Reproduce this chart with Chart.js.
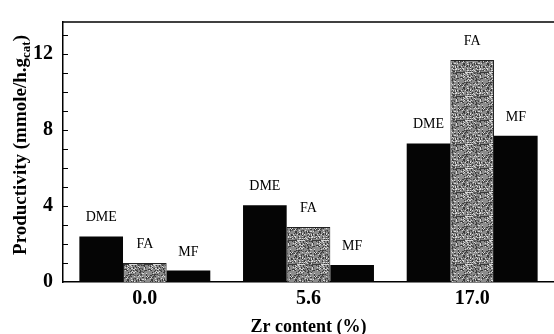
<!DOCTYPE html>
<html>
<head>
<meta charset="utf-8">
<script src="https://cdn.jsdelivr.net/npm/chart.js@4/dist/chart.umd.min.js"></script>
<style>
  html, body { margin: 0; padding: 0; background: #fff; }
  #wrap { width: 554px; height: 334px; }
</style>
</head>
<body>
<div id="wrap"><canvas id="chart"></canvas></div>
<script>
// data
const zrContent = ["0.0", "5.6", "17.0"];
const dmeValues = [2.4, 4.05, 7.3];
const faValues = [1.0, 2.9, 11.7];
const mfValues = [0.6, 0.9, 7.7];
const seriesNames = ["DME", "FA", "MF"];
const yLabelTicks = [0, 4, 8, 12];

const serif = "'Liberation Serif', 'DejaVu Serif', serif";

// speckled grey fill for the FA bars
function speckle() {
  const c = document.createElement("canvas");
  c.width = 24; c.height = 24;
  const g = c.getContext("2d");
  g.fillStyle = "#8c8c8c";
  g.fillRect(0, 0, 24, 24);
  for (let y = 0; y < 24; y++) {
    for (let x = 0; x < 24; x++) {
      const h = ((x * 73856093) ^ (y * 19349663)) >>> 0;
      const v = (h % 97);
      if (v < 18) { g.fillStyle = "#3a3a3a"; g.fillRect(x, y, 1, 1); }
      else if (v < 34) { g.fillStyle = "#d8d8d8"; g.fillRect(x, y, 1, 1); }
      else if (v < 44) { g.fillStyle = "#5e5e5e"; g.fillRect(x, y, 1, 1); }
    }
  }
  return g.createPattern(c, "repeat");
}

const frame = {
  id: "frame",
  afterDatasetsDraw(chart) {
    const ctx = chart.ctx;
    const a = chart.chartArea;
    const ys = chart.scales.y;
    ctx.save();
    // bar names above each bar
    ctx.fillStyle = "#000";
    ctx.font = "14px " + serif;
    ctx.textAlign = "center";
    ctx.textBaseline = "alphabetic";
    chart.data.datasets.forEach((ds, i) => {
      chart.getDatasetMeta(i).data.forEach(bar => {
        ctx.fillText(ds.label, bar.x, bar.y - 15);
      });
    });
    // frame lines
    ctx.strokeStyle = "#000";
    ctx.lineWidth = 1.5;
    ctx.beginPath();
    ctx.moveTo(a.left, a.top);
    ctx.lineTo(a.right, a.top);
    ctx.stroke();
    // inward minor ticks
    ctx.lineWidth = 1;
    for (let v = 1; v <= ys.max; v++) {
      const py = Math.round(ys.getPixelForValue(v)) + 0.5;
      ctx.beginPath();
      ctx.moveTo(a.left, py);
      ctx.lineTo(a.left + 5, py);
      ctx.stroke();
    }
    // y title with subscript
    const mainFont = "bold 19px " + serif;
    const subFont = "bold 13px " + serif;
    const main = "Productivity (mmole/h.g";
    const sub = "cat";
    ctx.font = mainFont;
    const w1 = ctx.measureText(main).width;
    const w3 = ctx.measureText(")").width;
    ctx.font = subFont;
    const w2 = ctx.measureText(sub).width;
    const total = w1 + w2 + w3;
    ctx.translate(26, 145);
    ctx.rotate(-Math.PI / 2);
    ctx.textAlign = "left";
    ctx.textBaseline = "alphabetic";
    ctx.font = mainFont;
    ctx.fillText(main, -total / 2, 0);
    ctx.font = subFont;
    ctx.fillText(sub, -total / 2 + w1, 4);
    ctx.font = mainFont;
    ctx.fillText(")", -total / 2 + w1 + w2, 0);
    ctx.restore();
  }
};

new Chart(document.getElementById("chart"), {
  type: "bar",
  data: {
    labels: zrContent,
    datasets: [
      { label: seriesNames[0], data: dmeValues, backgroundColor: "#050505" },
      { label: seriesNames[1], data: faValues, backgroundColor: speckle(), borderColor: "#222", borderWidth: 1 },
      { label: seriesNames[2], data: mfValues, backgroundColor: "#050505" }
    ]
  },
  options: {
    responsive: true,
    maintainAspectRatio: false,
    animation: false,
    layout: { padding: { top: 8, right: 0, left: 0, bottom: 0 } },
    plugins: { legend: { display: false }, tooltip: { enabled: false } },
    datasets: { bar: { categoryPercentage: 0.8, barPercentage: 1.0 } },
    scales: {
      x: {
        grid: { display: false, drawTicks: false },
        border: { display: true, color: "#000", width: 1.5 },
        ticks: { color: "#000", padding: 5, font: { family: serif, size: 20, weight: "bold" } },
        title: { display: true, text: "Zr content (%)", color: "#000", padding: { top: 0, bottom: -4 },
                 font: { family: serif, size: 18, weight: "bold" } },
        afterFit(s) { s.height = 52; }
      },
      y: {
        min: 0,
        max: 13.7,
        grid: { display: false, drawTicks: false },
        border: { display: true, color: "#000", width: 1.5 },
        ticks: {
          stepSize: 1,
          color: "#000",
          padding: 10,
          font: { family: serif, size: 20, weight: "bold" },
          callback: v => yLabelTicks.includes(v) ? String(v) : ""
        },
        afterFit(s) { s.width = 63; }
      }
    }
  },
  plugins: [frame]
});
</script>
</body>
</html>
